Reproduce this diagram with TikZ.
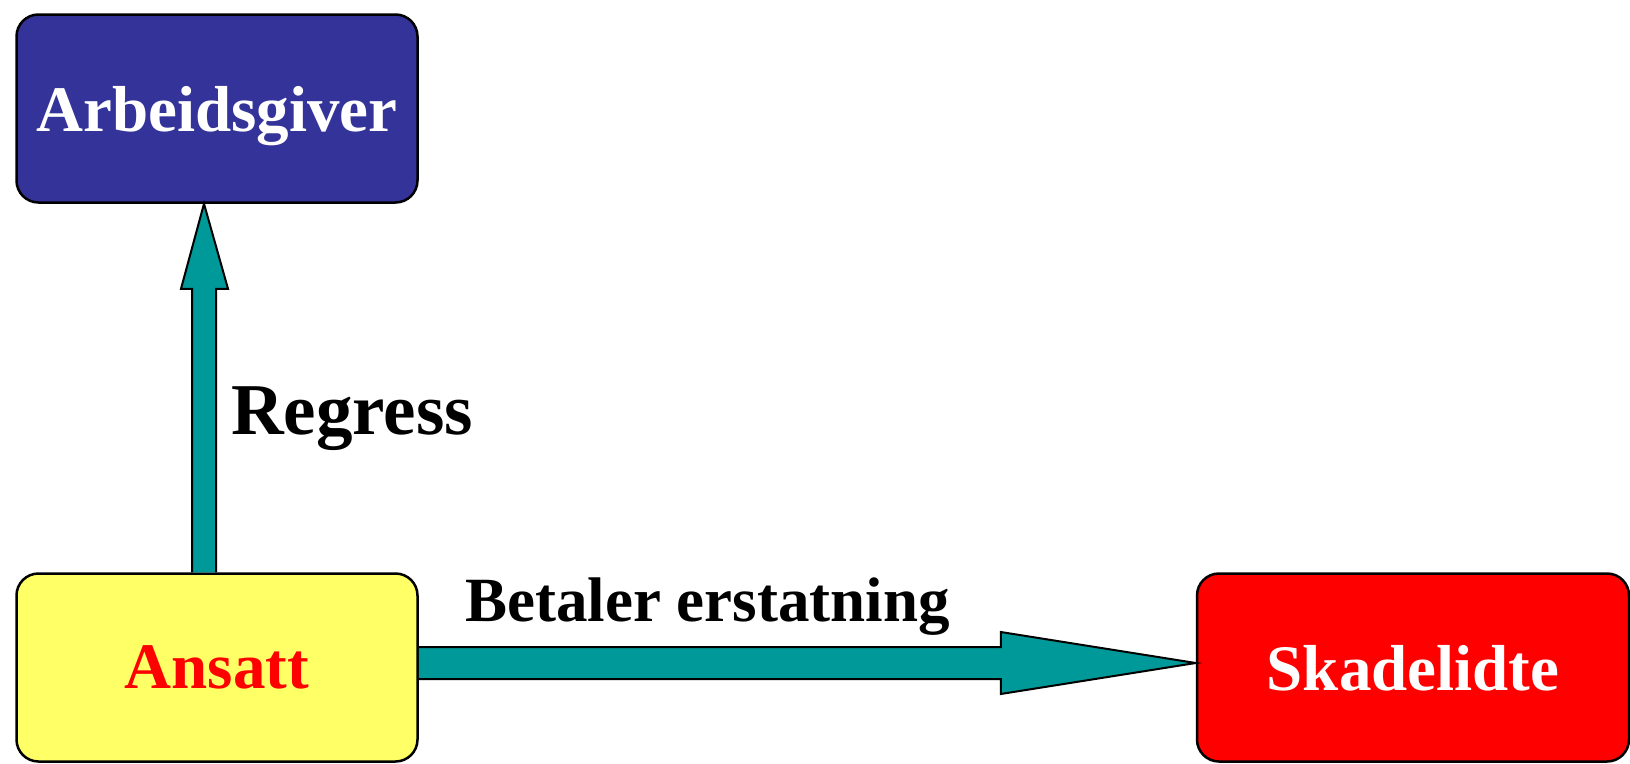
\documentclass[tikz,border=0pt]{standalone}
\usepackage{fontspec}
\setmainfont{Liberation Serif}
\usetikzlibrary{calc}
\usetikzlibrary{positioning}
\definecolor{boxblue}{HTML}{333399}
\definecolor{boxyellow}{HTML}{FFFF66}
\definecolor{arrowteal}{HTML}{009999}
\tikzset{
    mybox/.style = {rectangle, rounded corners=22pt, draw=black, line width=2.5pt, minimum width=401pt, minimum height=188pt, align=center, text depth=0pt, font=\bfseries\fontsize{65}{78}\selectfont},
    mynodeb/.style = {mybox, fill=boxblue, text=white},
    mynodey/.style = {mybox, fill=boxyellow, text=red},
    mynoder/.style = {mybox, fill=red, text=white, minimum width=432pt},
    blockarrow/.style = {draw=black, line width=2pt, fill=arrowteal, line join=miter},
    lbl/.style = {inner sep=0pt, text=black, font=\bfseries\fontsize{#1}{#1}\selectfont},
}

\begin{document}
\begin{tikzpicture}[x=1pt,y=-1pt]
\useasboundingbox (0,0) rectangle (1630,763);
\node[mynodeb] at (217.0, 108.5) (arb) {Arbeidsgiver};
\node[mynodey] at (217.0, 667.5) (ans) {Ansatt};
\node[mynoder] at (1413.0, 667.5) (skade) {Skadelidte};
%
\coordinate (vs) at ($(ans.north)+(-13,0)$);
\coordinate (vt) at ($(arb.south)+(-13,0)$);
\coordinate (hs) at ($(ans.east)+(0,-4.5)$);
\coordinate (ht) at ($(skade.west)+(0,-4.5)$);
%
\draw[blockarrow] ($(vs)+(-12,0)$) -- ($(vt)+(-12,85)$) -- ($(vt)+(-23,85)$) -- (vt)
    -- ($(vt)+(24,85)$) -- ($(vt)+(12,85)$) -- ($(vs)+(12,0)$);
\draw[blockarrow] ($(hs)+(0,-16)$) -- ($(ht)+(-195,-16)$) -- ($(ht)+(-195,-31)$) -- (ht)
    -- ($(ht)+(-195,31)$) -- ($(ht)+(-195,16)$) -- ($(hs)+(0,16)$);
%
\node[lbl=73, anchor=base west] at (231, 434) (regress) {Regress};
\node[lbl=63, anchor=base west] at (465, 621) (betaler) {Betaler erstatning};
\end{tikzpicture}
\end{document}
